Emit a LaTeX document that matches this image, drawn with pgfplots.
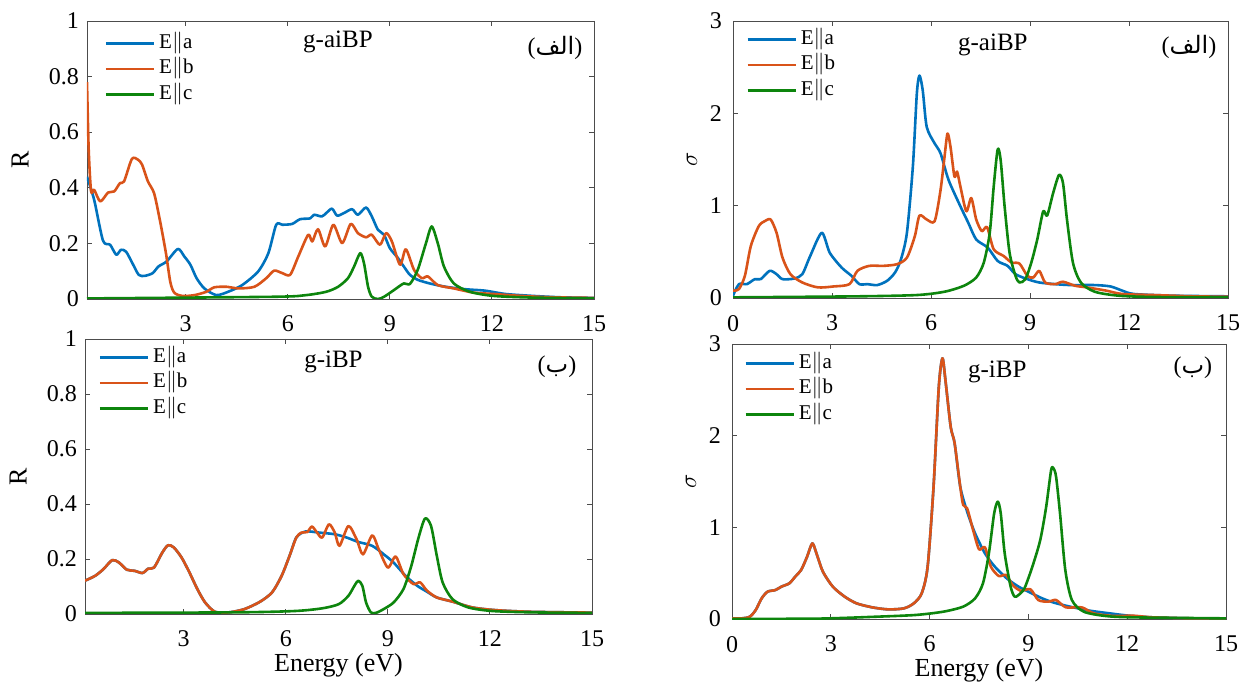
\documentclass[border=0pt]{standalone}
\usepackage{pgfplots}
\pgfplotsset{compat=1.18}
\usepackage{fontspec}
\setmainfont{Liberation Serif}
\newfontfamily\arabicfont[Script=Arabic]{DejaVu Sans}
\TeXXeTstate=1
\definecolor{mblue}{rgb}{0,0.447,0.741}
\definecolor{morange}{rgb}{0.85,0.325,0.098}
\definecolor{mgreen}{rgb}{0.05,0.52,0.05}
\newcommand{\alef}{(\mbox{\arabicfont\beginR الف\endR})}
\newcommand{\be}{(\mbox{\arabicfont\beginR ب\endR})}
\pgfplotsset{
  panel/.style={
    scale only axis, anchor=south west,
    axis line style={draw=black!70, line width=0.45pt},
    tick style={draw=black!70, line width=0.45pt},
    major tick length=2.5pt,
    tick align=inside,
    xmax=15,
    xtick={0,3,...,15},
    tick label style={font=\fontsize{12}{14}\selectfont},
    /pgf/number format/assume math mode=true,
    xticklabel style={yshift=-5pt},
    yticklabel style={xshift=-0.5pt},
    label style={font=\fontsize{13}{15}\selectfont},
    xlabel style={at={(axis description cs:0.5,-0.185)}, anchor=center},
    legend style={draw=none, fill=none, inner sep=0pt, anchor=north west,
      font=\fontsize{10.5}{12}\selectfont,
      nodes={inner xsep=2pt, inner ysep=1.875pt, text height=7pt, text depth=2pt},
      row sep=0pt},
    legend cell align=left,
    legend image code/.code={\draw[#1] (0pt,0pt) -- (24pt,0pt);},
    every axis plot/.append style={line width=1.3pt, line join=round, smooth, tension=0.45},
  },
}
\begin{document}
\begin{tikzpicture}
\path[use as bounding box] (0,0) rectangle (620pt,342pt);

% ---------------- Top-left: R, g-aiBP
\begin{axis}[panel, at={(43.5pt,192.5pt)}, width=253.5pt, height=139pt,
  xmin=0.1, ymin=0, ymax=1, ytick={0,0.2,...,1},
  ylabel={R}, ylabel style={at={(axis description cs:-0.132,0.5)}, anchor=center},
  legend style={at={(axis description cs:0.034,0.967)}}]
\addplot[mblue] coordinates {(0.1,0.44)(0.31,0.357)(0.57,0.21)(0.78,0.195)(0.96,0.159)(1.1,0.177)(1.25,0.17)(1.45,0.125)(1.62,0.087)(1.79,0.083)(2.03,0.093)(2.2,0.117)(2.44,0.135)(2.77,0.18)(2.96,0.153)(3.14,0.123)(3.32,0.075)(3.55,0.038)(3.9,0.014)(4.25,0.026)(4.66,0.05)(5.13,0.099)(5.43,0.165)(5.66,0.267)(5.84,0.267)(6.13,0.27)(6.36,0.287)(6.66,0.29)(6.77,0.303)(7.0,0.297)(7.13,0.309)(7.3,0.325)(7.45,0.30)(7.65,0.309)(7.89,0.323)(8.06,0.303)(8.3,0.329)(8.47,0.297)(8.65,0.249)(8.83,0.231)(9.0,0.183)(9.24,0.147)(9.41,0.117)(9.59,0.087)(9.82,0.069)(10.17,0.056)(10.64,0.044)(11.23,0.035)(11.8,0.03)(12.4,0.018)(13.22,0.011)(14.04,0.006)(15,0.004)};
\addlegendentry{E$\|$a}
\addplot[morange] coordinates {(0.1,0.78)(0.15,0.537)(0.22,0.387)(0.31,0.393)(0.49,0.351)(0.72,0.383)(0.9,0.387)(1.07,0.417)(1.19,0.423)(1.42,0.504)(1.6,0.501)(1.72,0.483)(1.89,0.423)(2.07,0.381)(2.24,0.285)(2.42,0.165)(2.55,0.06)(2.67,0.022)(2.91,0.011)(3.26,0.014)(3.61,0.026)(3.84,0.042)(4.2,0.044)(4.55,0.038)(5.02,0.044)(5.37,0.075)(5.6,0.102)(5.84,0.093)(6.07,0.087)(6.31,0.153)(6.6,0.231)(6.72,0.207)(6.89,0.251)(7.1,0.189)(7.34,0.267)(7.6,0.201)(7.85,0.27)(8.06,0.237)(8.3,0.222)(8.47,0.231)(8.71,0.195)(8.89,0.237)(9.06,0.207)(9.3,0.123)(9.47,0.179)(9.71,0.105)(9.94,0.075)(10.12,0.081)(10.41,0.05)(10.88,0.038)(11.46,0.023)(12.05,0.018)(12.87,0.011)(13.81,0.006)(15,0.004)};
\addlegendentry{E$\|$b}
\addplot[mgreen] coordinates {(0.1,0.002)(5.6,0.008)(6.54,0.014)(7.13,0.026)(7.48,0.044)(7.77,0.075)(7.95,0.117)(8.13,0.165)(8.24,0.129)(8.36,0.044)(8.47,0.008)(8.65,0.0)(8.83,0.008)(9.12,0.032)(9.41,0.056)(9.59,0.054)(9.82,0.105)(10.06,0.2)(10.23,0.261)(10.41,0.2)(10.59,0.117)(10.88,0.056)(11.35,0.026)(12.05,0.011)(13.22,0.005)(15,0.002)};
\addlegendentry{E$\|$c}
\node[font=\fontsize{12.5}{14}\selectfont] at (axis description cs:0.495,0.925) {g-aiBP};
\node[font=\fontsize{12}{14}\selectfont] at (axis description cs:0.923,0.903) {\alef};
\end{axis}

% ---------------- Bottom-left: R, g-iBP
\begin{axis}[panel, at={(42.5pt,35pt)}, width=253.5pt, height=137.5pt,
  xmin=0.1, ymin=0, ymax=1, ytick={0,0.2,...,1},
  xlabel={Energy (eV)},
  ylabel={R}, ylabel style={at={(axis description cs:-0.132,0.5)}, anchor=center},
  legend style={at={(axis description cs:0.026,0.981)}}]
\addplot[mblue] coordinates {(0.1,0.121)(0.4,0.139)(0.64,0.163)(0.9,0.196)(1.1,0.187)(1.33,0.161)(1.56,0.157)(1.79,0.149)(1.96,0.165)(2.13,0.169)(2.37,0.223)(2.54,0.25)(2.71,0.242)(2.94,0.205)(3.17,0.151)(3.4,0.091)(3.63,0.042)(3.92,0.008)(4.33,0.006)(4.79,0.018)(5.25,0.045)(5.6,0.079)(5.88,0.139)(6.11,0.211)(6.31,0.278)(6.58,0.3)(6.98,0.296)(7.44,0.29)(7.79,0.278)(8.13,0.262)(8.54,0.248)(8.88,0.217)(9.17,0.187)(9.52,0.139)(9.86,0.103)(10.15,0.081)(10.44,0.06)(10.9,0.045)(11.48,0.024)(12.17,0.014)(13.21,0.008)(15,0.005)};
\addlegendentry{E$\|$a}
\addplot[morange] coordinates {(0.1,0.121)(0.4,0.139)(0.64,0.163)(0.9,0.196)(1.1,0.187)(1.33,0.161)(1.56,0.157)(1.79,0.149)(1.96,0.165)(2.13,0.169)(2.37,0.223)(2.54,0.25)(2.71,0.242)(2.94,0.205)(3.17,0.151)(3.4,0.091)(3.63,0.042)(3.92,0.008)(4.33,0.006)(4.79,0.018)(5.25,0.045)(5.6,0.079)(5.88,0.139)(6.11,0.211)(6.31,0.278)(6.46,0.296)(6.63,0.298)(6.77,0.318)(6.92,0.296)(7.07,0.278)(7.27,0.326)(7.44,0.296)(7.58,0.248)(7.84,0.32)(8.08,0.272)(8.27,0.217)(8.54,0.286)(8.73,0.236)(9.0,0.169)(9.23,0.209)(9.46,0.145)(9.75,0.109)(9.95,0.115)(10.15,0.085)(10.44,0.06)(10.9,0.045)(11.48,0.024)(12.17,0.014)(13.21,0.008)(15,0.005)};
\addlegendentry{E$\|$b}
\addplot[mgreen] coordinates {(0.1,0.004)(4.56,0.006)(6.29,0.011)(7.09,0.021)(7.56,0.036)(7.84,0.066)(8.02,0.103)(8.13,0.121)(8.25,0.103)(8.36,0.042)(8.5,0.006)(8.65,0.004)(8.88,0.018)(9.17,0.042)(9.46,0.091)(9.69,0.175)(9.89,0.272)(10.09,0.347)(10.27,0.32)(10.44,0.211)(10.61,0.115)(10.9,0.054)(11.36,0.024)(12.05,0.011)(13.21,0.006)(15,0.004)};
\addlegendentry{E$\|$c}
\node[font=\fontsize{12.5}{14}\selectfont] at (axis description cs:0.49,0.916) {g-iBP};
\node[font=\fontsize{12}{14}\selectfont] at (axis description cs:0.931,0.898) {\be};
\end{axis}

% ---------------- Top-right: sigma, g-aiBP
\begin{axis}[panel, at={(366.5pt,193pt)}, width=247.5pt, height=138.5pt,
  xmin=0, ymin=0, ymax=3, ytick={0,1,2,3},
  ylabel={$\sigma$}, ylabel style={at={(axis description cs:-0.083,0.5)}, anchor=center},
  yticklabel style={xshift=-1.5pt},
  legend style={at={(axis description cs:0.026,0.981)}}]
\addplot[mblue] coordinates {(0,0.025)(0.18,0.15)(0.42,0.15)(0.66,0.204)(0.84,0.204)(1.11,0.294)(1.32,0.258)(1.5,0.204)(1.86,0.211)(2.1,0.258)(2.34,0.455)(2.69,0.706)(2.93,0.491)(3.29,0.33)(3.59,0.24)(3.83,0.15)(4.07,0.15)(4.37,0.14)(4.67,0.186)(4.91,0.276)(5.09,0.419)(5.27,0.706)(5.45,1.423)(5.57,2.211)(5.65,2.409)(5.75,2.247)(5.87,1.853)(6.11,1.674)(6.29,1.566)(6.53,1.28)(6.89,0.993)(7.13,0.814)(7.37,0.634)(7.72,0.545)(8.02,0.401)(8.32,0.348)(8.56,0.258)(8.92,0.204)(9.28,0.168)(9.76,0.15)(10.24,0.14)(10.96,0.14)(11.44,0.125)(11.8,0.079)(12.16,0.043)(13.35,0.025)(15,0.018)};
\addlegendentry{E$\|$a}
\addplot[morange] coordinates {(0,0.079)(0.18,0.097)(0.36,0.24)(0.54,0.563)(0.78,0.778)(0.96,0.832)(1.14,0.85)(1.32,0.706)(1.5,0.437)(1.74,0.258)(2.1,0.168)(2.57,0.115)(3.05,0.125)(3.53,0.15)(3.77,0.294)(4.13,0.348)(4.55,0.348)(4.97,0.366)(5.27,0.437)(5.51,0.67)(5.65,0.892)(5.87,0.85)(6.11,0.832)(6.29,1.172)(6.41,1.531)(6.5,1.781)(6.59,1.638)(6.71,1.315)(6.79,1.369)(6.89,1.208)(7.07,0.939)(7.22,1.082)(7.37,0.85)(7.54,0.724)(7.7,0.767)(7.9,0.527)(8.2,0.455)(8.44,0.384)(8.68,0.373)(8.92,0.24)(9.1,0.222)(9.28,0.294)(9.46,0.168)(9.76,0.15)(10.0,0.176)(10.36,0.133)(10.72,0.115)(11.32,0.079)(11.8,0.043)(12.75,0.032)(13.95,0.018)(15,0.014)};
\addlegendentry{E$\|$b}
\addplot[mgreen] coordinates {(0,0.007)(3.77,0.018)(5.57,0.032)(6.41,0.068)(7.0,0.133)(7.37,0.222)(7.6,0.384)(7.78,0.706)(7.9,1.208)(8.02,1.609)(8.11,1.495)(8.23,0.993)(8.38,0.491)(8.56,0.24)(8.68,0.168)(8.86,0.204)(9.04,0.384)(9.22,0.634)(9.4,0.939)(9.52,0.892)(9.7,1.136)(9.88,1.333)(10.0,1.244)(10.12,0.85)(10.3,0.384)(10.54,0.168)(10.96,0.068)(11.68,0.025)(12.75,0.011)(15,0.007)};
\addlegendentry{E$\|$c}
\node[font=\fontsize{12.5}{14}\selectfont] at (axis description cs:0.525,0.913) {g-aiBP};
\node[font=\fontsize{12}{14}\selectfont] at (axis description cs:0.921,0.906) {\alef};
\end{axis}

% ---------------- Bottom-right: sigma, g-iBP
\begin{axis}[panel, at={(366pt,32.5pt)}, width=247pt, height=137.5pt,
  xmin=0, ymin=0, ymax=3, ytick={0,1,2,3},
  xlabel={Energy (eV)},
  ylabel={$\sigma$}, ylabel style={at={(axis description cs:-0.083,0.5)}, anchor=center},
  yticklabel style={xshift=-1.5pt},
  legend style={at={(axis description cs:0.024,0.977)}}]
\addplot[mblue] coordinates {(0,0.007)(0.3,0.007)(0.54,0.025)(0.72,0.098)(0.9,0.225)(1.08,0.298)(1.32,0.316)(1.5,0.353)(1.74,0.389)(1.92,0.462)(2.1,0.535)(2.28,0.68)(2.44,0.825)(2.58,0.698)(2.76,0.516)(3.06,0.353)(3.42,0.244)(3.78,0.171)(4.26,0.127)(4.74,0.105)(5.22,0.116)(5.52,0.171)(5.76,0.28)(5.94,0.571)(6.12,1.444)(6.28,2.535)(6.39,2.844)(6.48,2.607)(6.64,2.098)(6.76,1.916)(6.93,1.444)(7.14,1.171)(7.38,0.935)(7.68,0.716)(7.98,0.571)(8.34,0.444)(8.7,0.353)(9.06,0.287)(9.42,0.225)(9.78,0.178)(10.26,0.135)(10.86,0.091)(11.46,0.062)(12.06,0.036)(12.78,0.018)(13.98,0.007)(15,0.007)};
\addlegendentry{E$\|$a}
\addplot[morange] coordinates {(0,0.007)(0.3,0.007)(0.54,0.025)(0.72,0.098)(0.9,0.225)(1.08,0.298)(1.32,0.316)(1.5,0.353)(1.74,0.389)(1.92,0.462)(2.1,0.535)(2.28,0.68)(2.44,0.825)(2.58,0.698)(2.76,0.516)(3.06,0.353)(3.42,0.244)(3.78,0.171)(4.26,0.127)(4.74,0.105)(5.22,0.116)(5.52,0.171)(5.76,0.28)(5.94,0.571)(6.12,1.444)(6.28,2.535)(6.39,2.844)(6.48,2.607)(6.64,2.098)(6.76,1.916)(6.93,1.444)(7.02,1.244)(7.14,1.207)(7.32,0.971)(7.5,0.76)(7.68,0.782)(7.86,0.571)(8.1,0.469)(8.32,0.48)(8.52,0.371)(8.76,0.309)(9.06,0.324)(9.3,0.207)(9.6,0.189)(9.84,0.207)(10.14,0.127)(10.62,0.127)(10.98,0.062)(11.58,0.033)(12.18,0.036)(12.78,0.018)(13.98,0.007)(15,0.007)};
\addlegendentry{E$\|$b}
\addplot[mgreen] coordinates {(0,0.002)(2.58,0.004)(4.38,0.025)(5.58,0.044)(6.42,0.08)(7.02,0.135)(7.38,0.225)(7.62,0.389)(7.8,0.716)(7.96,1.153)(8.07,1.28)(8.16,1.153)(8.28,0.716)(8.46,0.353)(8.58,0.244)(8.7,0.262)(8.88,0.335)(9.12,0.571)(9.36,0.862)(9.54,1.225)(9.69,1.625)(9.76,1.644)(9.84,1.553)(9.96,1.153)(10.12,0.535)(10.32,0.207)(10.68,0.08)(11.34,0.033)(12.18,0.018)(15,0.007)};
\addlegendentry{E$\|$c}
\node[font=\fontsize{12.5}{14}\selectfont] at (axis description cs:0.537,0.898) {g-iBP};
\node[font=\fontsize{12}{14}\selectfont] at (axis description cs:0.933,0.913) {\be};
\end{axis}
\end{tikzpicture}
\end{document}
